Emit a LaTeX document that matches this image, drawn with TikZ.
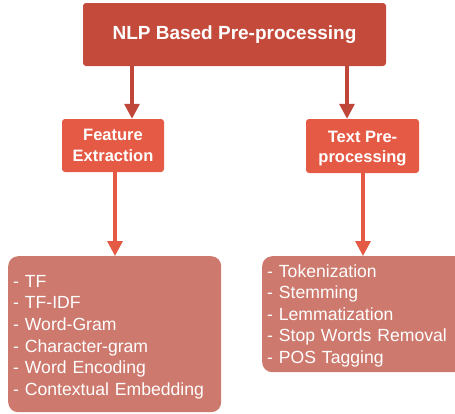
\documentclass[tikz,border=0pt]{standalone}
\usepackage{fontspec}
\setmainfont{Liberation Sans}
\usetikzlibrary{arrows.meta}
\definecolor{rootred}{HTML}{C44B3C}
\definecolor{midred}{HTML}{E55A45}
\definecolor{leafred}{HTML}{CD796D}
\definecolor{darkarrow}{HTML}{C0463A}
\tikzset{
  rootbox/.style={draw=none, fill=rootred, rounded corners=3pt, text=white,
    font=\bfseries\fontsize{19}{23}\selectfont, minimum width=303pt, minimum height=63pt},
  midbox/.style={draw=none, fill=midred, rounded corners=3pt, text=white, align=center,
    font=\bfseries\fontsize{16.5}{20.5}\selectfont, inner sep=0pt},
  leafbox/.style={draw=none, fill=leafred, rounded corners=10pt, text=white, align=left,
    font=\fontsize{17.6}{21.6}\selectfont, inner xsep=5pt, inner ysep=0pt},
  toparrow/.style={draw=darkarrow, line width=3.2pt, -{Triangle[length=15pt,width=15pt]}},
  midarrow/.style={draw=midred, line width=3.2pt, -{Triangle[length=15pt,width=15pt]}},
}
\begin{document}
\begin{tikzpicture}[x=1pt,y=-1pt]
  \useasboundingbox (0,0) rectangle (455,413);

  % root
  \node[rootbox] (root) at (234.5,34.5) {NLP Based Pre-processing};

  % second level
  \node[midbox, minimum width=102pt, minimum height=53pt] (feat) at (113,145.5)
    {Feature\\Extraction};
  \node[midbox, minimum width=113pt, minimum height=54pt] (prep) at (362.5,146)
    {\rule{0pt}{16pt}Text Pre-\\processing};

  % leaves
  \node[leafbox, text width=203pt, minimum height=156pt, anchor=north west] (featlist) at (8,256)
    {\rule{0pt}{18pt}- TF\\- TF-IDF\\- Word-Gram\\- Character-gram\\- Word Encoding\\- Contextual Embedding};
  \node[leafbox, text width=200pt, minimum height=116pt, anchor=north west] (preplist) at (262,256)
    {\rule{0pt}{16pt}- Tokenization\\- Stemming\\- Lemmatization\\- Stop Words Removal\\- POS Tagging};

  % connectors
  \coordinate (r1) at (root.south -| 132,0);
  \coordinate (r2) at (root.south -| 347,0);
  \draw[toparrow] (r1) -- (r1 |- feat.north);
  \draw[toparrow] (r2) -- (r2 |- prep.north);
  \coordinate (f1) at (feat.south -| 115,0);
  \coordinate (p1) at (prep.south -| 363,0);
  \draw[midarrow] (f1) -- (f1 |- featlist.north);
  \draw[midarrow] (p1) -- (p1 |- preplist.north);
\end{tikzpicture}
\end{document}
